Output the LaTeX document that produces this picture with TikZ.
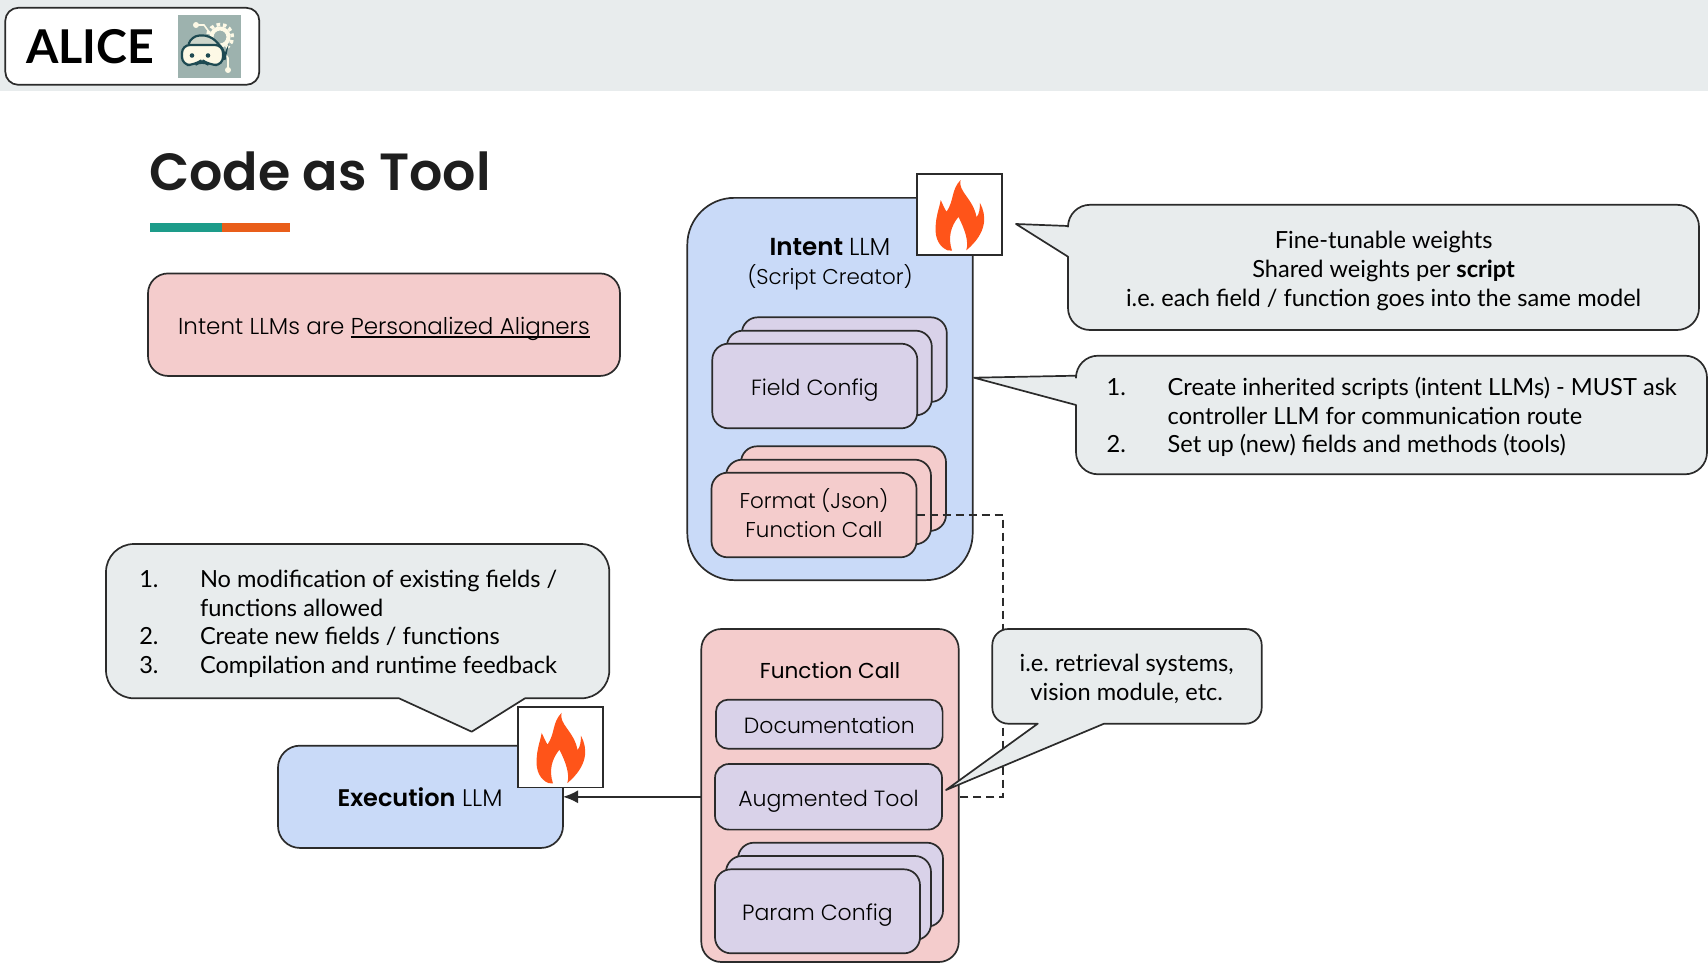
\documentclass[tikz,border=0pt]{standalone}
\usepackage{fontspec}
\setmainfont{Lato}
\newfontfamily\rale{Poppins Light}[BoldFont=Poppins SemiBold]
\newfontfamily\ralemid{Poppins}
\usetikzlibrary{arrows.meta}
\usetikzlibrary{positioning}
\definecolor{headgray}{HTML}{E8ECED}
\definecolor{ink}{HTML}{2B2B2B}
\definecolor{paleblue}{HTML}{C9DAF8}
\definecolor{palepink}{HTML}{F4CCCC}
\definecolor{palepurple}{HTML}{D9D2E9}
\definecolor{flameorange}{HTML}{FF5419}
\definecolor{logoteal}{HTML}{9DB2AE}
\definecolor{logodark}{HTML}{1E4A52}
\definecolor{logocream}{HTML}{FDF9E6}
\tikzstyle{box} = [rectangle, draw=ink, line width=1.7pt, inner sep=0pt, outer sep=0pt, align=center]
\tikzstyle{card} = [box, rounded corners=16pt, minimum width=205pt, minimum height=84.6pt, text height=19pt, text depth=0pt, font=\rale\fontsize{22}{29.5}\selectfont]
\tikzstyle{flamebox} = [box, fill=white, rounded corners=0pt, minimum width=85pt, minimum height=80.5pt]
\tikzstyle{bubble} = [draw=ink, line width=1.7pt, fill=headgray, line join=round]
\tikzstyle{latotext} = [inner sep=0pt, outer sep=0pt, align=center, font=\fontsize{23.6}{28.8}\selectfont]
\tikzstyle{raletext} = [inner sep=0pt, outer sep=0pt, align=center, font=\rale\fontsize{21.4}{29.5}\selectfont]
\tikzset{
  flame/.pic={
    \fill[flameorange,scale=.341] (-35,105) .. controls (-60,95) and (-72,68) .. (-70,39)
      .. controls (-70,8) and (-60,-17) .. (-55,-42) .. controls (-50,-32) and (-45,-19) .. (-38,-8)
      .. controls (-15,-42) and (-25,-72) .. (3,-101) .. controls (-5,-67) and (40,-47) .. (50,8)
      .. controls (58,-2) and (60,-17) .. (60,-34) .. controls (80,3) and (82,53) .. (20,105)
      .. controls (28,78) and (15,43) .. (-3,7) .. controls (-25,33) and (-35,68) .. (-22,106) -- cycle;
  }
}
\newcommand{\ulined}[1]{\setbox0\hbox{#1}\rlap{\rule[-3.5pt]{\wd0}{1.6pt}}\box0}
\begin{document}
\frenchspacing
\begin{tikzpicture}[x=1pt,y=-1pt]
  \useasboundingbox (0,0) rectangle (1708,963);
  \node[fill=headgray, anchor=north west, inner sep=0pt, outer sep=0pt, minimum width=1708pt, minimum height=91pt] (header) at (0,0) {};
  \node[box, fill=white, rounded corners=13pt, minimum width=254pt, minimum height=77pt] (logobox) at (132.3,46.3) {};
  \node[inner sep=0pt, anchor=base, font=\fontsize{46.6}{46.6}\bfseries\selectfont] (alice) at (90.3,63.5) {ALICE};

  % logo picture
  \node[fill=logoteal, inner sep=0pt, minimum width=63.5pt, minimum height=63pt] (logopic) at (209.3,46.5) {};
  \draw[logocream, line width=4pt] (220,37) circle (8.5pt);
  \draw[logocream, line width=3.5pt, dash pattern=on 3.5pt off 3pt] (220,37) circle (12.5pt);
  \draw[logocream, line width=1.6pt] (196,25) -- (204,25) -- (212,36);
  \fill[logocream] (196,25) circle (3pt);
  \draw[logocream, line width=1.6pt] (228,70) -- (228,58) -- (224,52);
  \fill[logocream] (228,70) circle (3pt);
  \draw[logodark, line width=2.2pt, fill=logoteal!50!logocream, rounded corners=8pt] (187,50) -- (191,36) -- (210,35) -- (226,52) -- (224,62) -- cycle;
  \draw[logodark, line width=2.2pt, fill=logocream, rounded corners=8pt] (182,45) -- (223,45) -- (223,65) -- (209,65) -- (202,60) -- (195,65) -- (182,65) -- cycle;
  \fill[logodark] (192,55.5) circle (2.3pt);
  \fill[logodark] (208,55.5) circle (2.3pt);

  % title
  \node[inner sep=0pt, anchor=base west, text=ink!70!black, font=\rale\fontsize{52.3}{52}\bfseries\selectfont] (title) at (149,190) {Code as Tool};
  \node[fill={rgb,255:red,29;green,156;blue,138}, inner sep=0pt, outer sep=0pt, minimum width=72pt, minimum height=9pt, anchor=north west] (barteal) at (150,223) {};
  \node[fill={rgb,255:red,233;green,94;blue,26}, inner sep=0pt, outer sep=0pt, minimum width=68pt, minimum height=9pt, right=0pt of barteal] (barorange) {};
  \node[box, fill=palepink, rounded corners=20pt, minimum width=472pt, minimum height=102.5pt, font=\rale\fontsize{23}{29.5}\selectfont, text height=19pt, text depth=0pt] (aligner) at (384,324.7) {Intent LLMs are \ulined{Personalized Aligners}};

  % intent llm
  \node[box, fill=paleblue, rounded corners=47pt, minimum width=285.4pt, minimum height=382.3pt] (intent) at (830,389) {};
  \node[flamebox] (intentflame) at (959.5,214.5) {};
  \pic at (intentflame) {flame};
  \node[raletext] (intentname) at (830,264) {{\fontsize{24.6}{29.5}\selectfont\bfseries Intent \mdseries LLM}\\(Script Creator)};

  \node[card, fill=palepurple] (field3) at (844.3,359.6) {};
  \node[card, fill=palepurple, xshift=-15pt, yshift=-13.4pt] (field2) at (field3) {};
  \node[card, fill=palepurple, xshift=-14.5pt, yshift=-13pt] (field1) at (field2) {Field Config};

  \node[card, fill=palepink] (format3) at (843.5,488.6) {};
  \node[card, fill=palepink, xshift=-15pt, yshift=-13.4pt] (format2) at (format3) {};
  \node[card, fill=palepink, xshift=-14.5pt, yshift=-13pt] (format1) at (format2) {};
  \node[raletext] (formatname) at (814,513) {Format (Json)\\Function Call};

  % link between the two pink parts, runs behind what follows
  \coordinate (dashcorner) at (1003,515);
  \coordinate (dashend) at (959,796.8);
  \draw[draw=ink, line width=1.5pt, dash pattern=on 8pt off 5pt] (format1.east) -- (dashcorner) -- (dashcorner |- dashend) -- (dashend);

  % function call
  \node[box, fill=palepink, rounded corners=20pt, minimum width=257.4pt, minimum height=333pt] (funcall) at (830,795.5) {};
  \node[inner sep=0pt, font=\ralemid\fontsize{21.6}{29.5}\selectfont] (funcname) at (830,670) {Function Call};
  \node[card, fill=palepurple, rounded corners=12pt, minimum width=226.6pt, minimum height=49pt] (docs) at (829.3,724.2) {Documentation};
  \node[card, fill=palepurple, rounded corners=14pt, minimum width=227pt, minimum height=65.6pt] (augment) at (828.5,796.8) {Augmented Tool};
  \node[card, fill=palepurple, minimum height=84pt] (param3) at (840.5,884.7) {};
  \node[card, fill=palepurple, minimum height=84pt, xshift=-12pt, yshift=-13.3pt] (param2) at (param3) {};
  \node[card, fill=palepurple, minimum height=84pt, xshift=-11pt, yshift=-13.3pt] (param1) at (param2) {Param Config};

  % execution llm
  \node[box, fill=paleblue, rounded corners=22pt, minimum width=285pt, minimum height=102.3pt] (execution) at (420.5,796.8) {};
  \node[raletext, font=\rale\fontsize{24}{29.5}\selectfont] (execname) at (420,796.8) {{\bfseries Execution} LLM};
  \draw[draw=ink, line width=1.7pt, -{Latex[length=15pt,width=13pt]}] (funcall.west |- execution) -- (execution.east);

  % speech bubbles
  \draw[bubble] (1068,226) [rounded corners=22pt] -- (1068,204.8) -- (1699,204.8) -- (1699,330) -- (1068,330) [sharp corners] -- (1068,256.7) -- (1016,224) -- cycle;
  \node[latotext] (weights) at (1383.6,270.7) {Fine-tunable weights\\Shared weights per \textbf{script}\\i.e. each field / function goes into the same model};

  \draw[bubble] (1076,375.7) [rounded corners=22pt] -- (1076,355.7) -- (1707,355.7) -- (1707,474.3) -- (1076,474.3) [sharp corners] -- (1076,405) -- (974,377.7) -- cycle;
  \node[latotext, anchor=north west, yshift=-7pt] (scripts) at (1106.7,368.2) {\begin{tabular}{@{}p{61pt}@{}l@{}}1.&Create inherited scripts (intent LLMs) - MUST ask\\&controller LLM for communication route\\2.&Set up (new) fields and methods (tools)\end{tabular}};

  \draw[bubble] (399,698.3) [rounded corners=28pt] -- (106,698.3) -- (106,544) -- (609.3,544) -- (609.3,698.3) [sharp corners] -- (525,698.3) -- (471.7,731.7) -- cycle;
  \node[latotext, anchor=north west, yshift=-7pt] (rules) at (139.3,560.2) {\begin{tabular}{@{}p{60.7pt}@{}l@{}}1.&No modification of existing fields /\\&functions allowed\\2.&Create new fields / functions\\3.&Compilation and runtime feedback\end{tabular}};
  \node[flamebox] (execflame) at (560.5,747.3) {};
  \pic at (execflame) {flame};

  \draw[bubble] (1037.7,723.7) [rounded corners=16pt] -- (992.3,723.7) -- (992.3,629) -- (1261.7,629) -- (1261.7,723.7) [sharp corners] -- (1104,723.7) -- (946,790) -- cycle;
  \node[latotext] (retrieval) at (1126.7,679) {i.e. retrieval systems,\\vision module, etc.};
\end{tikzpicture}
\end{document}
